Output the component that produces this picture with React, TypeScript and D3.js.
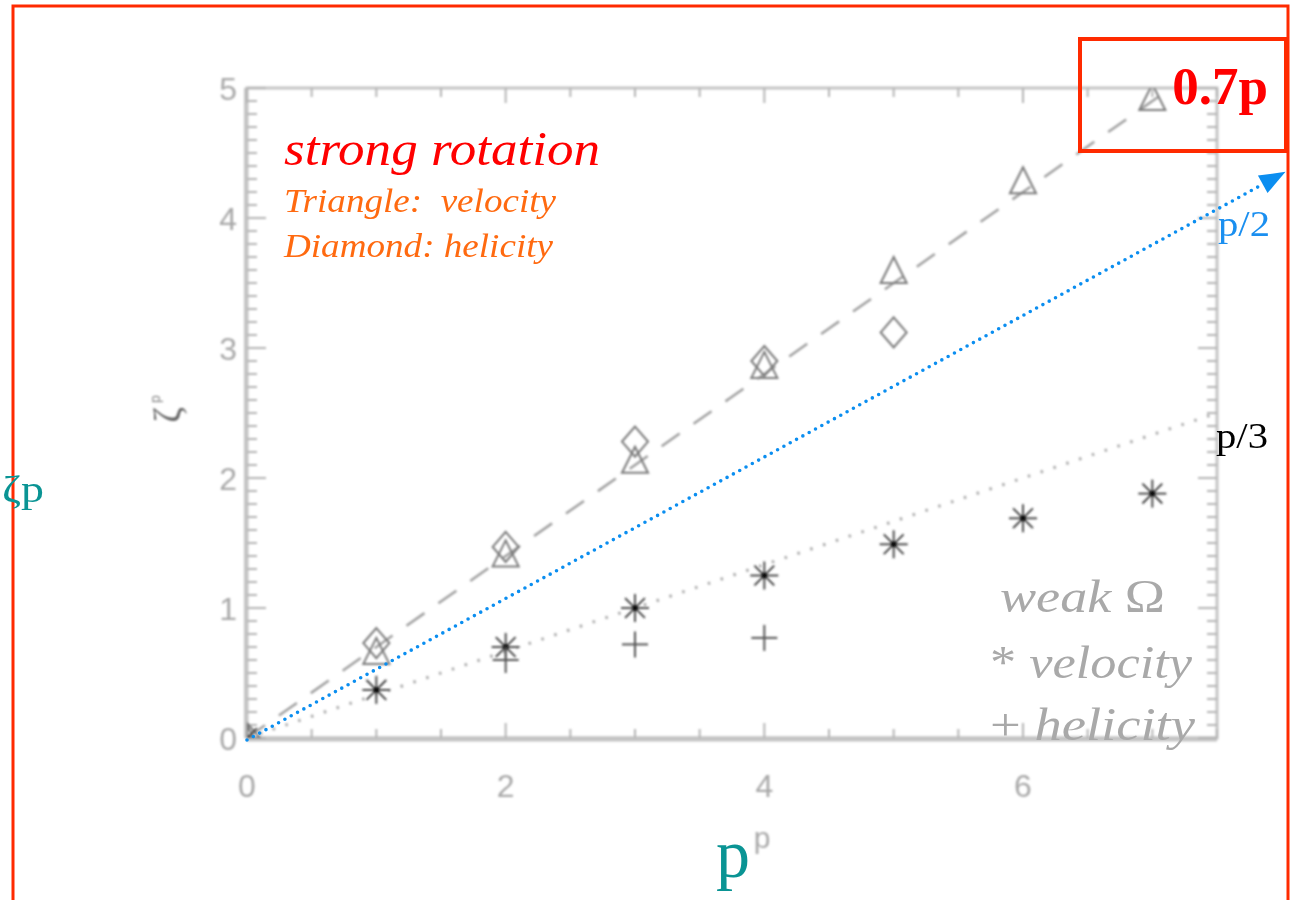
import React from "react";
import * as d3 from "d3";

// Order p of the structure functions
const pValues = [0, 1, 2, 3, 4, 5, 6, 7];
// Strong rotation: velocity exponents (triangles)
const strongVelocity = [0, 0.67, 1.42, 2.14, 2.87, 3.6, 4.29, 4.93];
// Strong rotation: helicity exponents (diamonds)
const strongHelicityP = [0, 1, 2, 3, 4, 5];
const strongHelicity = [0, 0.73, 1.47, 2.28, 2.9, 3.12];
// Weak rotation: velocity exponents (asterisks)
const weakVelocity = [0, 0.37, 0.7, 1.0, 1.25, 1.49, 1.69, 1.88];
// Weak rotation: helicity exponents (plus signs)
const weakHelicityP = [0, 2, 3, 4];
const weakHelicity = [0, 0.6, 0.72, 0.77];

// Reference slopes drawn as lines
const slopeStrong = 0.7;
const slopeWeak = 1 / 3;
// End of the p/2 arrow, in data units
const arrowEnd = [8.03, 4.355];

const xTickLabels = [0, 2, 4, 6];
const yTickLabels = [0, 1, 2, 3, 4, 5];

const W = 1297;
const H = 900;

export default function App() {
  const x = d3.scaleLinear().domain([0, 7.5]).range([247, 1217]);
  const y = d3.scaleLinear().domain([0, 5]).range([738, 88]);
  const [x0, x1] = x.range();
  const [y0, y1] = y.range();

  const gray = "#b4b4b4";
  const axisGray = "#c4c4c4";
  const serif = "'Liberation Serif', 'Times New Roman', serif";
  const sans = "'Liberation Sans', Arial, sans-serif";

  const line = d3
    .line<[number, number]>()
    .x((d) => x(d[0]))
    .y((d) => y(d[1]));

  const yMinor = d3.range(0, 50).map((i) => i / 10).filter((v) => Math.abs(v - Math.round(v)) > 1e-6);
  const yMajor = d3.range(0, 6);
  const xMinor = d3.range(0, 16).map((i) => i / 2).filter((v) => v % 2 !== 0);
  const xMajor = [0, 2, 4, 6];

  const tri = (cx: number, cy: number) => {
    const h = 26;
    const b = 26;
    return `M${cx},${cy - h / 2} L${cx + b / 2},${cy + h / 2} L${cx - b / 2},${cy + h / 2} Z`;
  };
  const diamond = (cx: number, cy: number) => {
    const w = 13;
    const h = 15;
    return `M${cx},${cy - h} L${cx + w},${cy} L${cx},${cy + h} L${cx - w},${cy} Z`;
  };

  const ax = x(arrowEnd[0]);
  const ay = y(arrowEnd[1]);
  const sx = x(0);
  const sy = y(0) + 2;
  const ang = Math.atan2(ay - sy, ax - sx);
  const headLen = 26;
  const headW = 10;
  const bx = ax - headLen * Math.cos(ang);
  const by = ay - headLen * Math.sin(ang);
  const head = `M${ax},${ay} L${bx + headW * Math.sin(ang)},${by - headW * Math.cos(ang)} L${bx - headW * Math.sin(ang)},${by + headW * Math.cos(ang)} Z`;

  return (
    <svg
      width={W}
      height={H}
      viewBox={`0 0 ${W} ${H}`}
      style={{ position: "absolute", left: 0, top: 0, background: "#fff" }}
    >
      <defs>
        <filter id="soft" x="-5%" y="-5%" width="110%" height="110%">
          <feGaussianBlur stdDeviation="0.9" />
        </filter>
        <clipPath id="plotClip">
          <rect x={x0} y={y1} width={x1 - x0} height={y0 - y1} />
        </clipPath>
      </defs>

      {/* outer slide frame */}
      <rect x={13} y={6} width={1275} height={920} fill="none" stroke="#ff2a00" strokeWidth={3} />

      <g filter="url(#soft)">
        {/* plot box */}
        <rect x={x0} y={y1} width={x1 - x0} height={y0 - y1} fill="none" stroke={axisGray} strokeWidth={3} />
        <line x1={x0} x2={x1} y1={y0 + 1} y2={y0 + 1} stroke={axisGray} strokeWidth={5} />
        <line x1={x0 - 1} x2={x0 - 1} y1={y1} y2={y0} stroke={axisGray} strokeWidth={4} />

        {/* y ticks, left and right */}
        {yMinor.map((v) => (
          <g key={"ym" + v}>
            <line x1={x0} x2={x0 + 10} y1={y(v)} y2={y(v)} stroke={gray} strokeWidth={2} />
            <line x1={x1} x2={x1 - 10} y1={y(v)} y2={y(v)} stroke={gray} strokeWidth={2} />
          </g>
        ))}
        {yMajor.map((v) => (
          <g key={"yM" + v}>
            <line x1={x0} x2={x0 + 19} y1={y(v)} y2={y(v)} stroke={gray} strokeWidth={2} />
            <line x1={x1} x2={x1 - 19} y1={y(v)} y2={y(v)} stroke={gray} strokeWidth={2} />
          </g>
        ))}
        {/* x ticks, bottom and top */}
        {xMinor.map((v) => (
          <g key={"xm" + v}>
            <line x1={x(v)} x2={x(v)} y1={y0} y2={y0 - 9} stroke={gray} strokeWidth={2} />
            <line x1={x(v)} x2={x(v)} y1={y1} y2={y1 + 9} stroke={gray} strokeWidth={2} />
          </g>
        ))}
        {xMajor.map((v) => (
          <g key={"xM" + v}>
            <line x1={x(v)} x2={x(v)} y1={y0} y2={y0 - 15} stroke={gray} strokeWidth={2} />
            <line x1={x(v)} x2={x(v)} y1={y1} y2={y1 + 15} stroke={gray} strokeWidth={2} />
          </g>
        ))}

        {/* tick labels */}
        {xTickLabels.map((v) => (
          <text key={"xl" + v} x={x(v)} y={y0 + 59} textAnchor="middle" fontFamily={sans} fontSize={32} fill="#a8a8a8">
            {v}
          </text>
        ))}
        {yTickLabels.map((v) => (
          <text key={"yl" + v} x={x0 - 10} y={y(v) + 12} textAnchor="end" fontFamily={sans} fontSize={32} fill="#a8a8a8">
            {v}
          </text>
        ))}

        {/* axis titles */}
        <text x={762} y={848} textAnchor="middle" fontFamily={sans} fontSize={30} fill="#a8a8a8">
          p
        </text>
        <g transform="translate(170,415) rotate(-90)">
          <text x={0} y={10} textAnchor="middle" fontFamily={serif} fontSize={38} fill="#666">
            ζ
          </text>
          <text x={12} y={-10} fontFamily={sans} fontSize={14} fill="#888">
            p
          </text>
        </g>

        <g clipPath="url(#plotClip)">
          {/* reference slope lines */}
          <path
            d={line([[0, 0], [7.5, slopeStrong * 7.5]]) || ""}
            fill="none"
            stroke="#a0a0a0"
            strokeWidth={2.5}
            strokeDasharray="22 17"
          />
          <path
            d={line([[0, 0], [7.5, slopeWeak * 7.5]]) || ""}
            fill="none"
            stroke="#a8a8a8"
            strokeWidth={3}
            strokeDasharray="2.5 11"
          />

          {/* strong rotation: velocity (triangles) */}
          {pValues.map((p, i) => (
            <path key={"tr" + p} d={tri(x(p), y(strongVelocity[i]))} fill="none" stroke="#7a7a7a" strokeWidth={2} />
          ))}
          {/* strong rotation: helicity (diamonds) */}
          {strongHelicityP.map((p, i) => (
            <path key={"di" + p} d={diamond(x(p), y(strongHelicity[i]))} fill="none" stroke="#7a7a7a" strokeWidth={2} />
          ))}
          {/* weak rotation: velocity (asterisks) */}
          {pValues.map((p, i) => {
            const cx = x(p);
            const cy = y(weakVelocity[i]);
            const r = 14;
            return (
              <g key={"as" + p}>
                {[0, 45, 90, 135].map((a) => {
                  const t = (a * Math.PI) / 180;
                  return (
                    <line
                      key={a}
                      x1={cx - r * Math.cos(t)}
                      y1={cy - r * Math.sin(t)}
                      x2={cx + r * Math.cos(t)}
                      y2={cy + r * Math.sin(t)}
                      stroke="#3a3a3a"
                      strokeWidth={1.8}
                    />
                  );
                })}
                <circle cx={cx} cy={cy} r={3} fill="#111" />
              </g>
            );
          })}
          {/* weak rotation: helicity (plus signs) */}
          {weakHelicityP.map((p, i) => {
            const cx = x(p);
            const cy = y(weakHelicity[i]);
            const r = 13;
            return (
              <g key={"pl" + p}>
                <line x1={cx - r} x2={cx + r} y1={cy} y2={cy} stroke="#555" strokeWidth={2} />
                <line x1={cx} x2={cx} y1={cy - r} y2={cy + r} stroke="#555" strokeWidth={2} />
              </g>
            );
          })}
        </g>
      </g>

      {/* p/2 arrow */}
      <line
        x1={sx}
        y1={sy}
        x2={bx}
        y2={by}
        stroke="#0b8ef0"
        strokeWidth={3.6}
        strokeLinecap="round"
        strokeDasharray="0 7.2"
      />
      <path d={head} fill="#0b8ef0" />

      {/* annotations */}
      <text x={284} y={165} fontFamily={serif} fontStyle="italic" fontSize={48} fill="#ff0000" textLength={316} lengthAdjust="spacingAndGlyphs">
        strong rotation
      </text>
      <text x={284} y={212} fontFamily={serif} fontStyle="italic" fontSize={34} fill="#ff6a10" xmlSpace="preserve" textLength={272} lengthAdjust="spacingAndGlyphs">
        Triangle:  velocity
      </text>
      <text x={284} y={257} fontFamily={serif} fontStyle="italic" fontSize={34} fill="#ff6a10" textLength={269} lengthAdjust="spacingAndGlyphs">
        Diamond: helicity
      </text>

      <text x={1000} y={612} fontFamily={serif} fontSize={46} fill="#a9a9a9" textLength={165} lengthAdjust="spacingAndGlyphs">
        <tspan fontStyle="italic">weak</tspan> Ω
      </text>
      <text x={990} y={678} fontFamily={serif} fontSize={46} fill="#a9a9a9" textLength={202} lengthAdjust="spacingAndGlyphs">
        * <tspan fontStyle="italic">velocity</tspan>
      </text>
      <text x={990} y={740} fontFamily={serif} fontSize={46} fill="#a9a9a9" textLength={205} lengthAdjust="spacingAndGlyphs">
        + <tspan fontStyle="italic">helicity</tspan>
      </text>

      <rect x={1080} y={39} width={206} height={112} fill="none" stroke="#ff2a00" strokeWidth={4} />
      <text x={1268} y={104} textAnchor="end" fontFamily={serif} fontWeight="bold" fontSize={53} fill="#ff0000">
        0.7p
      </text>

      <text x={1218} y={236} fontFamily={serif} fontSize={36} fill="#1a8ff0" textLength={52} lengthAdjust="spacingAndGlyphs">
        p/2
      </text>
      <text x={1216} y={448} fontFamily={serif} fontSize={36} fill="#000" textLength={52} lengthAdjust="spacingAndGlyphs">
        p/3
      </text>

      <text x={2} y={502} fontFamily={serif} fontSize={38} fill="#0a9494" textLength={42} lengthAdjust="spacingAndGlyphs">
        ζp
      </text>
      <text x={733} y={877} textAnchor="middle" fontFamily={serif} fontSize={68} fill="#0a9494">
        p
      </text>
    </svg>
  );
}
